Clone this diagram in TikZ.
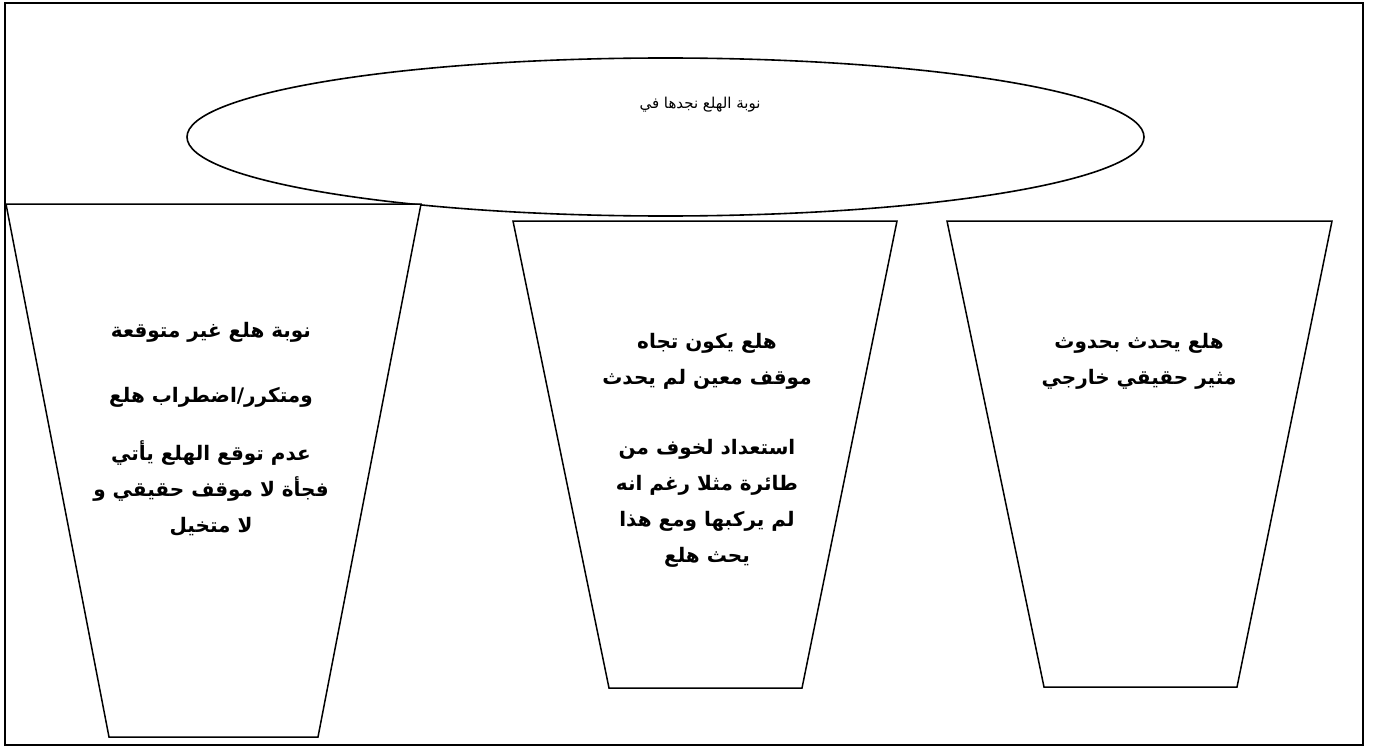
\documentclass[tikz,border=0pt]{standalone}
\usepackage{fontspec}
\newfontfamily\arabicfont[Script=Arabic]{DejaVu Sans}
\TeXXeTstate=1
\newcommand\rtlline[1]{\beginR #1\endR}
\tikzset{
  frame/.style={draw=black, line width=2.2pt},
  bubble/.style={draw=black, line width=1.6pt, fill=white},
  cup/.style={draw=black, line width=1.5pt, fill=white, line join=miter},
  boldtext/.style={font=\arabicfont\bfseries\fontsize{20}{36}\selectfont, align=center, inner sep=0pt},
  plaintext/.style={font=\arabicfont\fontsize{15}{18}\selectfont, align=center, inner sep=0pt}
}
\begin{document}
\begin{tikzpicture}[x=1pt,y=-1pt]
\useasboundingbox (0,0) rectangle (1383,749);
\fill[white] (0,0) rectangle (1383,749);
\draw[frame] (5,3) rectangle (1363,745);
% ellipse
\draw[bubble] (665.5,137) ellipse [x radius=478.5, y radius=79];
\node[plaintext] (title) at (700,105) {\rtlline{نوبة الهلع نجدها في}};
% trapezoids
\coordinate (LA) at (6,204); \coordinate (LB) at (421,204);
\coordinate (LC) at (318,737); \coordinate (LD) at (109,737);
\draw[cup] (LA) -- (LB) -- (LC) -- (LD) -- cycle;
\coordinate (MA) at (513,221); \coordinate (MB) at (897,221);
\coordinate (MC) at (802,688); \coordinate (MD) at (609,688);
\draw[cup] (MA) -- (MB) -- (MC) -- (MD) -- cycle;
\coordinate (RA) at (947,221); \coordinate (RB) at (1332,221);
\coordinate (RC) at (1237,687); \coordinate (RD) at (1044,687);
\draw[cup] (RA) -- (RB) -- (RC) -- (RD) -- cycle;
% left texts
\node[boldtext] (l1) at (211,332) {\rtlline{نوبة هلع غير متوقعة}};
\node[boldtext] (l2) at (211,397) {\rtlline{ومتكرر/اضطراب هلع}};
\node[boldtext] (l3) at (211,488) {\rtlline{عدم توقع الهلع يأتي}\\\rtlline{فجأة لا موقف حقيقي و}\\\rtlline{لا متخيل}};
% middle texts
\node[boldtext] (m1) at (707,361) {\rtlline{هلع يكون تجاه}\\\rtlline{موقف معين لم يحدث}};
\node[boldtext] (m2) at (707,503) {\rtlline{استعداد لخوف من}\\\rtlline{طائرة مثلا رغم انه}\\\rtlline{لم يركبها ومع هذا}\\\rtlline{يحث هلع}};
% right texts
\node[boldtext] (r1) at (1139,361) {\rtlline{هلع يحدث بحدوث}\\\rtlline{مثير حقيقي خارجي}};
\end{tikzpicture}
\end{document}
